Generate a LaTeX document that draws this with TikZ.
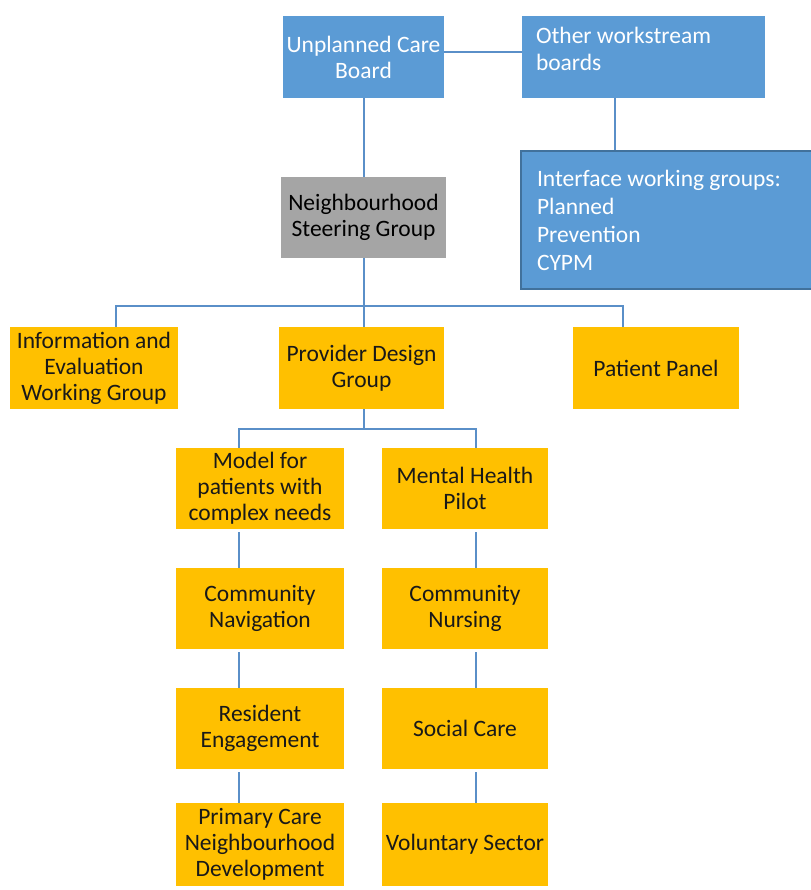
\documentclass[tikz,border=0pt]{standalone}
\usepackage{fontspec}
\setmainfont{Carlito}
\usetikzlibrary{positioning}
\definecolor{boardblue}{HTML}{5B9BD5}
\definecolor{groupgold}{HTML}{FFC000}
\definecolor{steergray}{HTML}{A5A5A5}
\definecolor{linkblue}{HTML}{5A8FC8}
\definecolor{edgeblue}{HTML}{41719C}

\begin{document}
\begin{tikzpicture}[x=1pt,y=-1pt,
  box/.style={rectangle,inner sep=0pt,align=center,font=\fontsize{23.5}{26}\selectfont,minimum height=82pt},
  board/.style={box,fill=boardblue,text=white},
  wg/.style={box,fill=groupgold,text=black!90},
  link/.style={draw=linkblue,line width=2pt}]
\useasboundingbox (0,0) rectangle (810,890);
\fill[white] (0,0) rectangle (810,890);

\node[board,minimum width=161pt] (ucb) at (363.5,57) {Unplanned Care\\Board};
\node[board,minimum width=243pt] (owb) at (643.5,57) {};
\node[text=white,inner sep=0pt,align=flush left,anchor=north west,font=\fontsize{23.5}{27}\selectfont] (owbtext) at ([shift={(14,11)}]owb.north west) {Other workstream\\boards};
\node[board,minimum width=294pt,minimum height=138pt,draw=edgeblue,line width=2pt,text width=262pt,align=flush left,font=\fontsize{23.5}{28}\selectfont] (ifw) at (668,220) {Interface working groups:\\Planned\\Prevention\\CYPM};
\node[box,fill=steergray,minimum width=165pt,minimum height=81pt] (nsg) at (363.5,217.5) {Neighbourhood\\Steering Group};

\node[wg,minimum width=168pt] (iew) at (94,368) {Information and\\Evaluation\\Working Group};
\node[wg,minimum width=165pt] (pdg) at (361.5,368) {Provider Design\\Group};
\node[wg,minimum width=166pt] (ppn) at (656,368) {Patient Panel};

\node[wg,minimum width=168pt,minimum height=81pt] (mdl) at (260,488.5) {Model for\\patients with\\complex needs};
\node[wg,minimum width=168pt,minimum height=81pt] (cnv) at (260,608.5) {Community\\Navigation};
\node[wg,minimum width=168pt,minimum height=81pt] (reg) at (260,728.5) {Resident\\Engagement};
\node[wg,minimum width=168pt,minimum height=83pt] (pcn) at (260,844.5) {Primary Care\\Neighbourhood\\Development};
\node[wg,minimum width=166pt,minimum height=81pt] (mhp) at (465,488.5) {Mental Health\\Pilot};
\node[wg,minimum width=166pt,minimum height=81pt] (cns) at (465,608.5) {Community\\Nursing};
\node[wg,minimum width=166pt,minimum height=81pt] (scl) at (465,728.5) {Social Care};
\node[wg,minimum width=166pt,minimum height=83pt] (vol) at (465,844.5) {Voluntary Sector};

\coordinate (hubA) at (363.5,306);
\coordinate (hubB) at (363.5,429);

\draw[link] ([yshift=5pt]ucb.east) -- ([yshift=5pt]owb.west);
\draw[link] ([xshift=-28.5pt]owb.south) -- ([xshift=-28.5pt]owb.south |- ifw.north);
\draw[link] (ucb) -- (nsg);
\draw[link] (nsg) -- (hubA);
\draw[link] ([xshift=22pt]iew.north) |- (hubA) -| ([xshift=-33pt]ppn.north);
\draw[link] (hubA) -- (hubA |- pdg.north);
\draw[link] (pdg.south -| hubB) -- (hubB);
\draw[link] ([xshift=-21pt]mdl.north) |- (hubB) -| ([xshift=11pt]mhp.north);

\draw[link,shorten <=3pt] ([xshift=-21pt]mdl.south) -- ([xshift=-21pt]cnv.north);
\draw[link,shorten <=3pt] ([xshift=-21pt]cnv.south) -- ([xshift=-21pt]reg.north);
\draw[link,shorten <=3pt] ([xshift=-21pt]reg.south) -- ([xshift=-21pt]pcn.north);
\draw[link,shorten <=3pt] ([xshift=11pt]mhp.south) -- ([xshift=11pt]cns.north);
\draw[link,shorten <=3pt] ([xshift=11pt]cns.south) -- ([xshift=11pt]scl.north);
\draw[link,shorten <=3pt] ([xshift=11pt]scl.south) -- ([xshift=11pt]vol.north);
\end{tikzpicture}
\end{document}
